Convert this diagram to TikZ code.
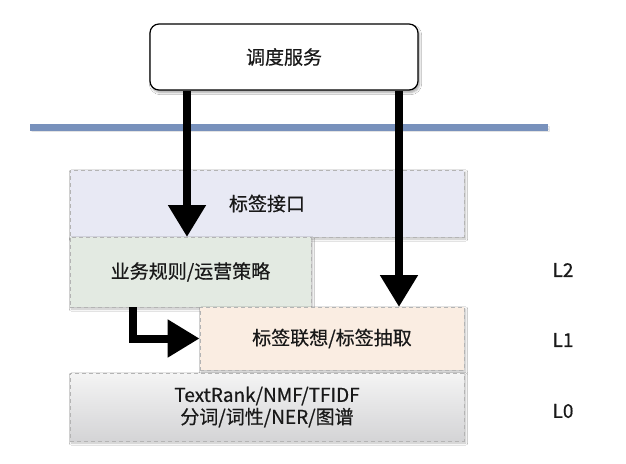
\documentclass[tikz,border=0pt]{standalone}
\usepackage{fontspec}
\setmainfont{Noto Sans CJK SC}[FakeBold=0.5,AutoFakeBold=0.5]
\usetikzlibrary{arrows.meta,shadows.blur}
\definecolor{bluebar}{HTML}{7891BC}
\definecolor{ifacefill}{HTML}{E8E9F4}
\definecolor{rulesfill}{HTML}{E3EAE2}
\definecolor{assocfill}{HTML}{FAEDE2}
\definecolor{basetop}{HTML}{F4F4F4}
\definecolor{basebot}{HTML}{D4D4D6}
\definecolor{dashgray}{HTML}{B4B4B4}
\tikzset{
  lbl/.style={font=\fontsize{19}{24}\selectfont\bfseries, text=black!90},
  layerbox/.style={draw=dashgray, line width=0.8pt, dash pattern=on 4pt off 3pt,
     inner sep=0pt, minimum width=#1, lbl, align=center,
     blur shadow={shadow xshift=1.5pt, shadow yshift=-2pt, shadow blur steps=6, shadow opacity=25}},
  bigarrow/.style={line width=8pt, draw=black, line join=miter,
     -{Triangle[width=36pt,length=32pt]}},
}
\begin{document}
\begin{tikzpicture}[x=1pt,y=-1pt]
\useasboundingbox[fill=white] (0,0) rectangle (626,463);
% separator bar
\coordinate (barL) at (30,127);
\coordinate (barR) at (548,127);
\draw[bluebar, line width=7pt, blur shadow={shadow xshift=1.5pt, shadow yshift=-2pt, shadow blur steps=6, shadow opacity=25}] (barL) -- (barR);
% service box
\node[draw=black, line width=1.2pt, rounded corners=9pt, fill=white, minimum width=268pt, minimum height=66pt, lbl,
  blur shadow={shadow xshift=1.5pt, shadow yshift=-2.5pt, shadow blur steps=6, shadow opacity=35}]
  (sched) at (284,57) {调度服务};
% layers
\node[layerbox=394pt, minimum height=67pt, fill=ifacefill] (iface) at (267,203.5) {标签接口};
\node[layerbox=241pt, minimum height=70pt, fill=rulesfill] (rules) at (190.5,272) {业务规则/运营策略};
\node[layerbox=264pt, minimum height=63pt, fill=assocfill] (assoc) at (332,338.5) {标签联想/标签抽取};
\node[layerbox=394pt, minimum height=68pt, top color=basetop, bottom color=basebot] (base) at (267,407)
  {TextRank/NMF/TFIDF\\[-2pt]分词/词性/NER/图谱};
% level labels
\node[lbl] (L2) at (563,270) {L2};
\node[lbl] (L1) at (563,340) {L1};
\node[lbl] (L0) at (563,411) {L0};
% arrows
\coordinate (a1e) at (187,237);
\coordinate (a2e) at (399,307);
\coordinate (a3s) at (133,307);
\coordinate (a3c) at (133,338.5);
\draw[bigarrow] (sched.south -| a1e) -- (a1e);
\draw[bigarrow] (sched.south -| a2e) -- (a2e);
\draw[bigarrow] (rules.south -| a3s) -- (a3c) -- (assoc.west);
\end{tikzpicture}
\end{document}
